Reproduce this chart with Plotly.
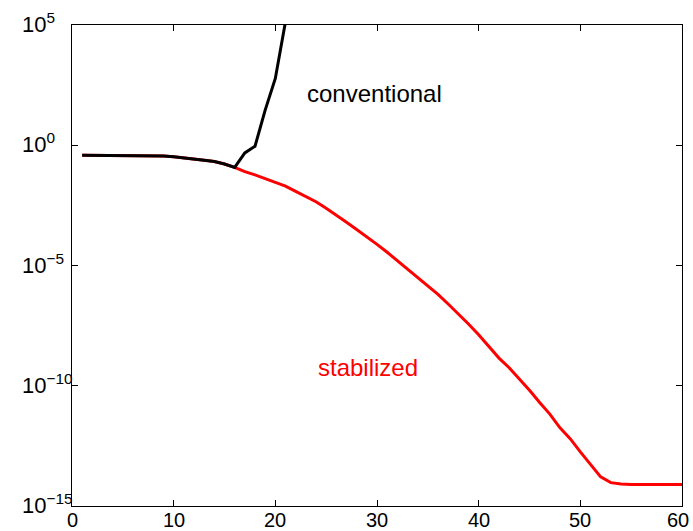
import math
import plotly.graph_objects as go

# iteration index
n_common = list(range(1, 17))
# log10 of error, shared part (iterations 1..16)
log_common = [-0.42, -0.42, -0.42, -0.42, -0.42, -0.42, -0.42, -0.43, -0.45, -0.48,
              -0.52, -0.55, -0.62, -0.68, -0.78, -0.92]

# conventional continues (17..22)
n_conv_tail = [17, 18, 19, 20, 21, 22]
log_conv_tail = [-0.32, -0.04, 1.46, 2.78, 5.05, 7.5]

# stabilized continues (17..60)
n_stab_tail = list(range(17, 61))
log_stab_tail = [-1.10, -1.23, -1.38, -1.55, -1.70, -1.92, -2.12, -2.35, -2.62, -2.90,
                 -3.20, -3.50, -3.80, -4.12, -4.45, -4.80, -5.13, -5.50, -5.83, -6.20,
                 -6.60, -7.00, -7.43, -7.88, -8.35, -8.85, -9.25, -9.70, -10.19, -10.70,
                 -11.18, -11.75, -12.20, -12.75, -13.27, -13.79, -14.03, -14.09, -14.11, -14.11,
                 -14.11, -14.11, -14.11, -14.11]

ytick_vals = [1e5, 1e0, 1e-5, 1e-10, 1e-15]
ytick_text = ["10<sup>5</sup>", "10<sup>0</sup>", "10<sup>\u22125</sup>",
              "10<sup>\u221210</sup>", "10<sup>\u221215</sup>"]
xtick_vals = [0, 10, 20, 30, 40, 50, 60]
xtick_text = ["0", "10", "20", "30", "40", "50", "60"]

FONT = "Liberation Sans, Arial"

n_stab = n_common + n_stab_tail
y_stab = [10 ** v for v in log_common + log_stab_tail]
n_conv = n_common + n_conv_tail
y_conv = [10 ** v for v in log_common + log_conv_tail]

fig = go.Figure()
fig.add_trace(go.Scatter(x=n_stab, y=y_stab, mode="lines",
                         line=dict(color="#ff0000", width=3), showlegend=False))
fig.add_trace(go.Scatter(x=n_conv, y=y_conv, mode="lines",
                         line=dict(color="#000000", width=3), showlegend=False))

# annotation y is given in log10 units on a log axis
fig.add_annotation(x=29.8, y=2.16, xref="x", yref="y", text="conventional",
                   showarrow=False, font=dict(color="black", size=24, family=FONT))
fig.add_annotation(x=29.1, y=-9.23, xref="x", yref="y", text="stabilized",
                   showarrow=False, font=dict(color="#ff0000", size=24, family=FONT))

# y tick labels, left-aligned as in the original
for v, t in zip(ytick_vals, ytick_text):
    fig.add_annotation(x=-0.0852, xref="paper", xanchor="left",
                       y=math.log10(v), yref="y", yanchor="middle", yshift=2,
                       text=t, showarrow=False,
                       font=dict(color="black", size=22, family=FONT))

# x tick labels, placed just below the axis
for v, t in zip(xtick_vals, xtick_text):
    fig.add_annotation(x=v, xref="x", xanchor="center",
                       y=-0.0104, yref="paper", yanchor="top", yshift=4,
                       xshift=-4 if v == xtick_vals[-1] else 0,
                       text=t, showarrow=False,
                       font=dict(color="black", size=20, family=FONT))

axis_common = dict(showline=True, linecolor="black", linewidth=1.3, mirror="ticks",
                   ticks="inside", ticklen=6, tickcolor="black", tickwidth=1,
                   showgrid=False, zeroline=False, automargin=False,
                   showticklabels=False)

fig.update_xaxes(range=[0, 60], tickvals=xtick_vals, **axis_common)
fig.update_yaxes(type="log", range=[-15, 5], tickvals=ytick_vals, **axis_common)

fig.update_layout(width=693, height=531, margin=dict(l=72, r=11, t=25, b=25),
                  paper_bgcolor="white", plot_bgcolor="white")

fig.write_html("out.html")
